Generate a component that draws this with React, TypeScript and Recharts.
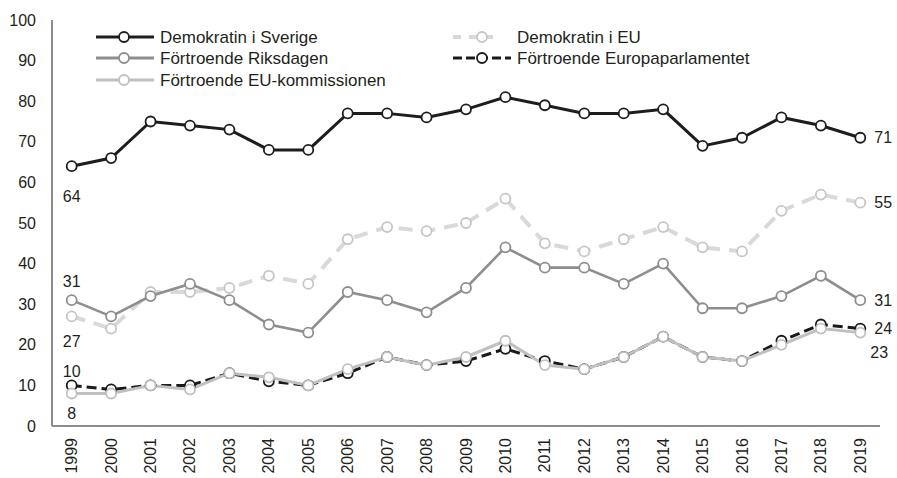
import React from 'react';
import { LineChart, Line, XAxis, YAxis, LabelList } from 'recharts';

const years = ['1999','2000','2001','2002','2003','2004','2005','2006','2007','2008','2009','2010','2011','2012','2013','2014','2015','2016','2017','2018','2019'];
const demokratinSverige = [64, 66, 75, 74, 73, 68, 68, 77, 77, 76, 78, 81, 79, 77, 77, 78, 69, 71, 76, 74, 71];
const demokratinEU = [27, 24, 33, 33, 34, 37, 35, 46, 49, 48, 50, 56, 45, 43, 46, 49, 44, 43, 53, 57, 55];
const fortroendeRiksdagen = [31, 27, 32, 35, 31, 25, 23, 33, 31, 28, 34, 44, 39, 39, 35, 40, 29, 29, 32, 37, 31];
const fortroendeEuropaparlamentet = [10, 9, 10, 10, 13, 11, 10, 13, 17, 15, 16, 19, 16, 14, 17, 22, 17, 16, 21, 25, 24];
const fortroendeKommissionen = [8, 8, 10, 9, 13, 12, 10, 14, 17, 15, 17, 21, 15, 14, 17, 22, 17, 16, 20, 24, 23];
const yTicks = [0, 10, 20, 30, 40, 50, 60, 70, 80, 90, 100];

const data = years.map((y, i) => ({
  year: y,
  sverige: demokratinSverige[i],
  eu: demokratinEU[i],
  riksdagen: fortroendeRiksdagen[i],
  parl: fortroendeEuropaparlamentet[i],
  kom: fortroendeKommissionen[i],
}));

const FONT = '"Liberation Sans", Arial, sans-serif';
const TEXT = '#231f20';
const AXIS = '#8c8c8c';
const C_SV = '#1f1c1d';
const C_EU = '#d9d9d9';
const C_EU_DOT = '#c6c6c6';
const C_RIK = '#8e8e8e';
const C_PARL = '#1a1a1a';
const C_KOM = '#c0c0c0';
const TICK_FS = 16;
const LEG_FS = 17;

const XTick = (props: any) => {
  const { x, y, payload } = props;
  return (
    <text x={x} y={y} transform={`rotate(-90, ${x}, ${y})`} textAnchor="end" dominantBaseline="central" fontSize={TICK_FS} fill={TEXT} fontFamily={FONT}>
      {payload.value}
    </text>
  );
};

const makeLabel = (firstDy: number, lastDy: number, lastDx: number = 14) => (props: any) => {
  const { x, y, value, index } = props;
  if (index === 0) {
    return (
      <text x={x} y={y + firstDy} textAnchor="middle" dominantBaseline="central" fontSize={TICK_FS} fill={TEXT} fontFamily={FONT}>{value}</text>
    );
  }
  if (index === years.length - 1) {
    return (
      <text x={x + lastDx} y={y + lastDy} textAnchor="start" dominantBaseline="central" fontSize={TICK_FS} fill={TEXT} fontFamily={FONT}>{value}</text>
    );
  }
  return null;
};

const dot = (color: string) => ({ r: 5, fill: '#ffffff', stroke: color, strokeWidth: 1.8, strokeDasharray: '' });

const LegendSvg = () => (
  <svg width={897} height={100} style={{ position: 'absolute', left: 0, top: 0, pointerEvents: 'none' }}>
    <g fontFamily={FONT} fontSize={LEG_FS} fill={TEXT}>
      <line x1={96} x2={154} y1={37} y2={37} stroke={C_SV} strokeWidth={3} />
      <circle cx={124} cy={37} r={5} fill="#fff" stroke={C_SV} strokeWidth={1.8} />
      <text x={160} y={37} dominantBaseline="central">Demokratin i Sverige</text>

      <line x1={96} x2={154} y1={58} y2={58} stroke={C_RIK} strokeWidth={3} />
      <circle cx={124} cy={58} r={5} fill="#fff" stroke={C_RIK} strokeWidth={1.8} />
      <text x={160} y={58} dominantBaseline="central">Förtroende Riksdagen</text>

      <line x1={96} x2={154} y1={80} y2={80} stroke={C_KOM} strokeWidth={3} />
      <circle cx={124} cy={80} r={5} fill="#fff" stroke={C_KOM} strokeWidth={1.8} />
      <text x={160} y={80} dominantBaseline="central">Förtroende EU-kommissionen</text>

      <line x1={453} x2={501} y1={37} y2={37} stroke={C_EU} strokeWidth={4} strokeDasharray="8 8" />
      <circle cx={482} cy={37} r={5} fill="#fff" stroke={C_EU_DOT} strokeWidth={1.8} />
      <text x={517} y={37} dominantBaseline="central">Demokratin i EU</text>

      <line x1={453} x2={511} y1={58} y2={58} stroke={C_PARL} strokeWidth={3} strokeDasharray="9 4" />
      <circle cx={482} cy={58} r={5} fill="#fff" stroke={C_PARL} strokeWidth={1.8} />
      <text x={517} y={58} dominantBaseline="central">Förtroende Europaparlamentet</text>
    </g>
  </svg>
);

export default function App() {
  return (
    <div style={{ position: 'absolute', left: 0, top: 0, width: 897, height: 478, background: '#fff' }}>
      <LineChart width={897} height={478} data={data} margin={{ top: 20, right: 17, bottom: 0, left: 0 }}>
        <XAxis
          dataKey="year"
          interval={0}
          height={52}
          tickSize={0}
          tickMargin={12}
          tickLine={false}
          axisLine={{ stroke: AXIS, strokeWidth: 2 }}
          tick={<XTick />}
          padding={{ left: 19.7, right: 19.7 }}
        />
        <YAxis
          width={52}
          domain={[0, 100]}
          ticks={yTicks}
          interval={0}
          tickSize={0}
          tickMargin={16}
          tickLine={false}
          axisLine={{ stroke: AXIS, strokeWidth: 2 }}
          tick={{ fontSize: TICK_FS, fill: TEXT, fontFamily: FONT }}
        />
        <Line dataKey="eu" stroke={C_EU} strokeWidth={4} strokeDasharray="14 9" dot={dot(C_EU_DOT)} activeDot={false} isAnimationActive={false}>
          <LabelList dataKey="eu" content={makeLabel(25, 0)} />
        </Line>
        <Line dataKey="riksdagen" stroke={C_RIK} strokeWidth={2.6} dot={dot(C_RIK)} activeDot={false} isAnimationActive={false}>
          <LabelList dataKey="riksdagen" content={makeLabel(-19, 0)} />
        </Line>
        <Line dataKey="parl" stroke={C_PARL} strokeWidth={3} strokeDasharray="10 5" dot={dot(C_PARL)} activeDot={false} isAnimationActive={false}>
          <LabelList dataKey="parl" content={makeLabel(-14, 0)} />
        </Line>
        <Line dataKey="kom" stroke={C_KOM} strokeWidth={3} dot={dot(C_KOM)} activeDot={false} isAnimationActive={false}>
          <LabelList dataKey="kom" content={makeLabel(20, 20, 10)} />
        </Line>
        <Line dataKey="sverige" stroke={C_SV} strokeWidth={3} dot={dot(C_SV)} activeDot={false} isAnimationActive={false}>
          <LabelList dataKey="sverige" content={makeLabel(30, 0)} />
        </Line>
      </LineChart>
      <LegendSvg />
    </div>
  );
}
